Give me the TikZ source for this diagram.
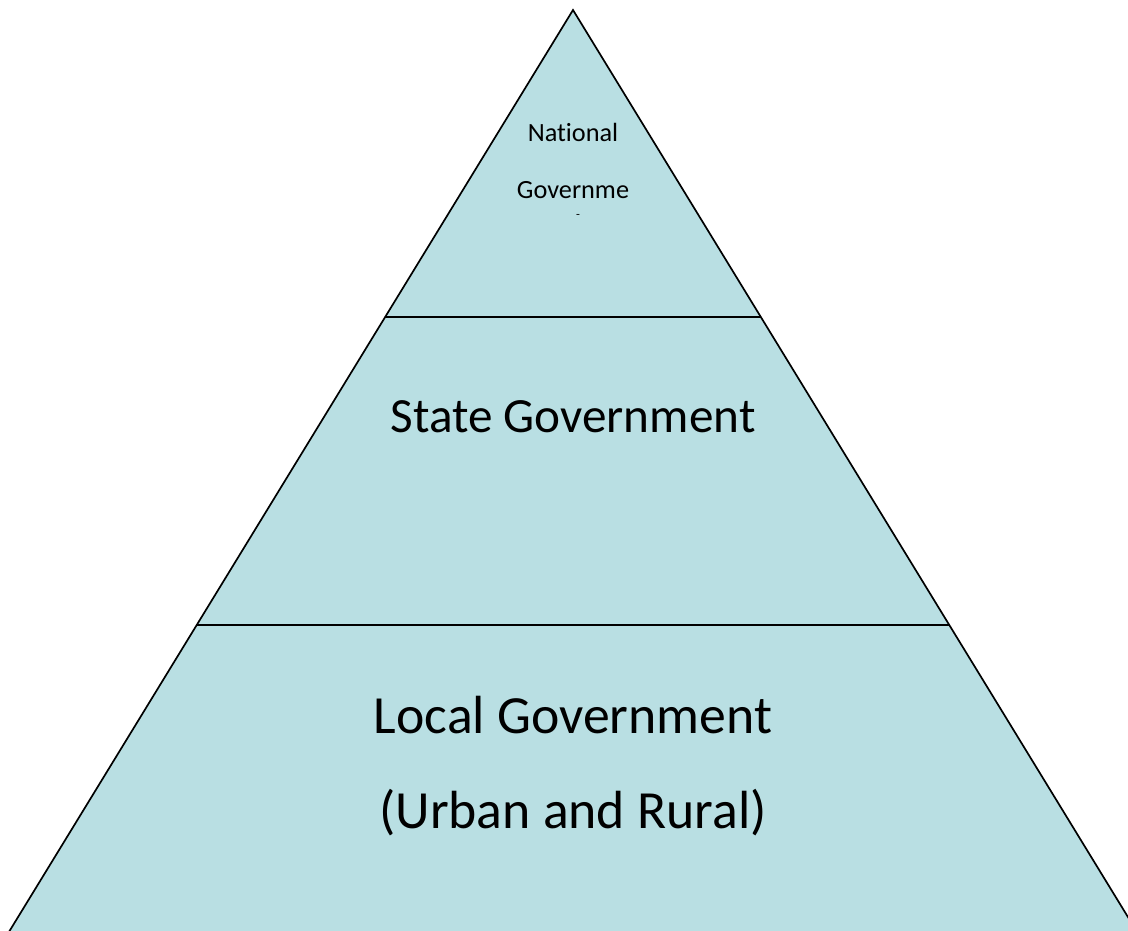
\documentclass[tikz,border=0pt]{standalone}
\usepackage{fontspec}
\setmainfont[Ligatures={NoCommon}]{Carlito}
\usetikzlibrary{calc,positioning}
\definecolor{tierfill}{RGB}{185,223,227}

\tikzset{
  tier/.style={fill=tierfill,draw=black,line width=1.2pt,line join=miter},
  small label/.style={font=\fontsize{18.7}{22}\selectfont},
  big label/.style={font=\fontsize{35}{42}\selectfont},
  base label/.style={font=\fontsize{38.2}{46}\selectfont}
}

\begin{document}
\begin{tikzpicture}[x=0.025cm,y=-0.025cm]
\useasboundingbox (0,0) rectangle (1128,931);
\clip (0,0) rectangle (1128,931);
% corners of the pyramid
\coordinate (top) at (573,10);
\coordinate (bl) at (4,940);
\coordinate (br) at (1142,940);
\coordinate (al) at (385,317);
\coordinate (ar) at (761,317);
\coordinate (bl2) at (197,625);
\coordinate (br2) at (949,625);
\draw[tier] (top) -- (br) -- (bl) -- cycle;
\draw[line width=1.2pt] (al) -- (ar);
\draw[line width=1.2pt] (bl2) -- (br2);
% labels
\node[small label] (nat) at (573,132) {National};
\node[small label] (gov) at (573,190) {Governme};
\node[font=\small] (dash) at (578,216) {-};
\node[big label] (state) at (573,417) {State Government};
\node[base label] (local) at (573,715) {Local Government};
\node[base label] (urban) at (573,813) {(Urban and Rural)};
\end{tikzpicture}
\end{document}
